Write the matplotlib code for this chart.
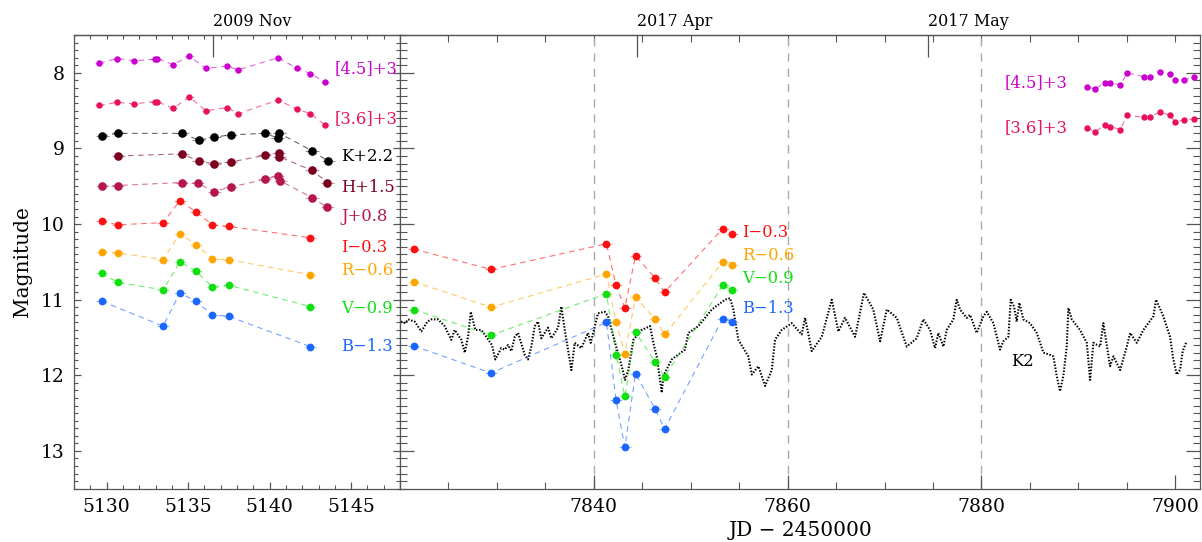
import matplotlib

matplotlib.use("Agg")
import matplotlib.pyplot as plt
from matplotlib.ticker import MultipleLocator

plt.rcParams.update(
    {
        "font.family": ["DejaVu Serif"],
        "font.size": 12,
        "axes.linewidth": 0.9,
        "axes.edgecolor": "#555555",
        "xtick.color": "#555555",
        "ytick.color": "#555555",
        "xtick.labelcolor": "black",
        "ytick.labelcolor": "black",
    }
)

# ---- 2009 November campaign ----
jd_irac_2009 = [5129.55, 5130.65, 5131.7, 5132.94, 5133.1, 5134.08, 5135.08,
                5136.08, 5137.4, 5138.08, 5140.5, 5141.7, 5142.5, 5143.4]
ch2_2009 = [7.87, 7.81, 7.84, 7.82, 7.81, 7.89, 7.78, 7.94, 7.91, 7.96, 7.80, 7.94, 8.01, 8.12]
ch1_2009 = [8.43, 8.39, 8.41, 8.38, 8.38, 8.47, 8.32, 8.50, 8.46, 8.54, 8.36, 8.48, 8.54, 8.69]

jd_k_2009 = [5129.73, 5130.7, 5134.65, 5135.65, 5136.6, 5137.6, 5139.7, 5140.5, 5140.6, 5142.6, 5143.6]
k_2009 = [8.83, 8.80, 8.80, 8.89, 8.85, 8.82, 8.80, 8.86, 8.80, 9.03, 9.17]
jd_h_2009 = [5130.7, 5134.65, 5135.65, 5136.6, 5137.6, 5139.7, 5140.55, 5140.6, 5142.6, 5143.55]
h_2009 = [9.10, 9.07, 9.17, 9.20, 9.18, 9.09, 9.06, 9.11, 9.29, 9.45]
jd_j_2009 = [5129.73, 5130.67, 5134.6, 5135.6, 5136.6, 5137.6, 5139.7, 5140.5, 5140.66, 5142.6, 5143.55]
j_2009 = [9.50, 9.49, 9.45, 9.46, 9.57, 9.51, 9.41, 9.36, 9.43, 9.65, 9.78]

jd_opt_2009 = [5129.69, 5130.67, 5133.47, 5134.49, 5135.47, 5136.49, 5137.49, 5142.49]
i_2009 = [9.96, 10.01, 9.98, 9.69, 9.84, 10.01, 10.03, 10.18]
r_2009 = [10.37, 10.38, 10.47, 10.13, 10.27, 10.46, 10.47, 10.67]
v_2009 = [10.65, 10.77, 10.87, 10.50, 10.62, 10.83, 10.81, 11.09]
jd_b_2009 = [5129.69, 5133.47, 5134.49, 5135.47, 5136.49, 5137.49, 5142.49]
b_2009 = [11.02, 11.35, 10.91, 11.02, 11.20, 11.22, 11.62]

# ---- 2017 campaign ----
jd_opt_2017 = [7821.4, 7829.4, 7841.3, 7842.3, 7843.2, 7844.3, 7846.3, 7847.3, 7853.3, 7854.3]
i_2017 = [10.33, 10.60, 10.26, 10.81, 11.11, 10.42, 10.71, 10.90, 10.06, 10.13]
r_2017 = [10.76, 11.10, 10.66, 11.30, 11.72, 10.97, 11.25, 11.46, 10.50, 10.54]
v_2017 = [11.13, 11.47, 10.92, 11.73, 12.28, 11.43, 11.82, 12.02, 10.81, 10.87]
b_2017 = [11.61, 11.97, 11.30, 12.33, 12.95, 11.98, 12.44, 12.71, 11.25, 11.29]

jd_irac_2017 = [7890.93, 7891.76, 7892.7, 7893.3, 7894.3, 7895.06, 7896.78,
                7897.4, 7898.4, 7899.5, 7899.95, 7900.9, 7901.9]
ch2_2017 = [8.19, 8.21, 8.13, 8.13, 8.16, 8.00, 8.05, 8.05, 7.99, 8.02, 8.10, 8.09, 8.06]
ch1_2017 = [8.73, 8.78, 8.69, 8.71, 8.75, 8.56, 8.59, 8.58, 8.52, 8.56, 8.65, 8.62, 8.61]

k2_jd = [7820.1, 7820.55, 7820.83, 7821.52, 7822.2, 7822.82, 7823.23, 7823.92,
         7824.61, 7825.29, 7825.64, 7826.33, 7826.68, 7827.02, 7827.3, 7827.77,
         7828.39, 7828.74, 7829.49, 7829.83, 7830.45, 7830.8, 7831.15, 7831.49,
         7831.84, 7832.18, 7832.87, 7833.21, 7833.55, 7833.9, 7834.24, 7834.58,
         7835.27, 7835.61, 7836.31, 7836.65, 7837.0, 7837.68, 7838.03, 7838.71,
         7839.4, 7839.68, 7840.43, 7841.13, 7841.47, 7842.19, 7842.88, 7843.22,
         7843.56, 7844.08, 7844.94, 7845.8, 7846.14, 7846.49, 7847.01, 7847.17,
         7848.04, 7849.41, 7849.75, 7850.78, 7852.17, 7853.54, 7854.06, 7854.4,
         7854.91, 7855.94, 7856.3, 7856.98, 7857.67, 7858.36, 7858.7, 7859.39,
         7860.42, 7861.45, 7861.8, 7862.49, 7863.52, 7864.55, 7865.23, 7865.92,
         7866.96, 7867.88, 7868.84, 7869.54, 7870.23, 7871.26, 7872.29, 7873.32,
         7874.0, 7874.7, 7875.21, 7875.55, 7876.07, 7876.42, 7877.1, 7877.45,
         7877.79, 7878.48, 7878.82, 7879.51, 7880.2, 7880.55, 7881.23, 7881.92,
         7882.26, 7882.78, 7883.02, 7883.36, 7883.64, 7883.91, 7884.32, 7885.01,
         7885.71, 7886.39, 7887.08, 7887.42, 7887.77, 7888.11, 7888.45, 7888.8,
         7888.97, 7889.32, 7890.17, 7890.87, 7891.21, 7891.55, 7892.24, 7892.58,
         7893.27, 7893.62, 7894.31, 7895.0, 7895.34, 7896.03, 7896.71, 7897.74,
         7898.02, 7898.77, 7899.46, 7899.8, 7900.15, 7900.49, 7900.77, 7901.11]
k2_mag = [11.29, 11.31, 11.26, 11.29, 11.42, 11.29, 11.26, 11.26,
          11.35, 11.53, 11.40, 11.53, 11.70, 11.49, 11.16, 11.40,
          11.40, 11.46, 11.60, 11.79, 11.64, 11.66, 11.60, 11.68,
          11.49, 11.44, 11.73, 11.79, 11.62, 11.35, 11.29, 11.51,
          11.37, 11.51, 11.37, 11.09, 11.40, 11.93, 11.57, 11.64,
          11.44, 11.57, 11.18, 11.16, 11.22, 11.57, 11.88, 12.06,
          11.93, 11.53, 11.40, 11.35, 11.57, 11.75, 12.23, 12.01,
          11.79, 11.66, 11.44, 11.35, 11.13, 11.00, 10.98, 11.13,
          11.53, 11.75, 11.99, 11.88, 12.14, 11.93, 11.53, 11.40,
          11.31, 11.46, 11.24, 11.68, 11.49, 11.00, 11.42, 11.24,
          11.49, 10.91, 11.13, 11.55, 11.13, 11.24, 11.62, 11.51,
          11.26, 11.40, 11.64, 11.44, 11.62, 11.40, 11.26, 11.00,
          11.13, 11.24, 11.20, 11.44, 11.22, 11.16, 11.31, 11.66,
          11.55, 11.49, 11.00, 11.09, 11.29, 11.04, 11.26, 11.31,
          11.44, 11.70, 11.73, 11.75, 12.01, 12.21, 12.01, 11.62,
          11.11, 11.26, 11.40, 11.57, 12.06, 11.57, 11.62, 11.31,
          11.88, 11.75, 11.93, 11.62, 11.44, 11.57, 11.40, 11.22,
          11.00, 11.22, 11.49, 11.79, 11.99, 11.93, 11.68, 11.57]

C = {
    "ch2": "#CC00CC",
    "ch1": "#E8105F",
    "K": "#000000",
    "H": "#7A0020",
    "J": "#B5164B",
    "I": "#FF1010",
    "R": "#FFA500",
    "V": "#10E010",
    "B": "#1A66FF",
}


def series(ax, x, y, color, ms, xerr, yerr):
    ax.plot(x, y, color=color, lw=0.8, alpha=0.6, ls=(0, (5, 4)), zorder=2)
    ax.errorbar(x, y, xerr=xerr, yerr=yerr, fmt="none", ecolor=color,
                elinewidth=0.8, alpha=0.45, zorder=3)
    ax.plot(x, y, "o", color=color, ms=ms, mec="none", zorder=4)


fig = plt.figure(figsize=(12.02, 5.42), dpi=100)
ax1 = fig.add_axes([0.0616, 0.0983, 0.2712, 0.837])
ax2 = fig.add_axes([0.3328, 0.0983, 0.6656, 0.837])

# left panel
series(ax1, jd_irac_2009, ch2_2009, C["ch2"], 4.6, 0.25, 0.02)
series(ax1, jd_irac_2009, ch1_2009, C["ch1"], 4.6, 0.25, 0.02)
series(ax1, jd_k_2009, k_2009, C["K"], 6.2, 0.4, 0.04)
series(ax1, jd_h_2009, h_2009, C["H"], 6.2, 0.4, 0.04)
series(ax1, jd_j_2009, j_2009, C["J"], 6.2, 0.4, 0.04)
series(ax1, jd_opt_2009, i_2009, C["I"], 5.6, 0.35, 0.03)
series(ax1, jd_opt_2009, r_2009, C["R"], 5.6, 0.35, 0.03)
series(ax1, jd_opt_2009, v_2009, C["V"], 5.6, 0.35, 0.03)
series(ax1, jd_b_2009, b_2009, C["B"], 5.6, 0.35, 0.03)

fs_lab = 11.8
for txt, key, x, y in [
    ("[4.5]+3", "ch2", 5144.0, 7.94),
    ("[3.6]+3", "ch1", 5144.0, 8.61),
    ("K+2.2", "K", 5144.4, 9.11),
    ("H+1.5", "H", 5144.4, 9.52),
    ("J+0.8", "J", 5144.4, 9.90),
    ("I\u22120.3", "I", 5144.4, 10.31),
    ("R\u22120.6", "R", 5144.4, 10.62),
    ("V\u22120.9", "V", 5144.4, 11.12),
    ("B\u22121.3", "B", 5144.4, 11.62),
]:
    ax1.text(x, y, txt, color=C[key], fontsize=fs_lab, ha="left", va="center")

# right panel
for xv in [7840, 7860, 7880]:
    ax2.axvline(xv, color="#aaaaaa", lw=1.0, ls=(0, (6, 5)), zorder=1)

ax2.plot(k2_jd, k2_mag, color="black", lw=1.5, ls=(0, (0.7, 0.8)), zorder=2)

series(ax2, jd_opt_2017, i_2017, C["I"], 5.6, 0.6, 0.03)
series(ax2, jd_opt_2017, r_2017, C["R"], 5.6, 0.6, 0.03)
series(ax2, jd_opt_2017, v_2017, C["V"], 5.6, 0.6, 0.03)
series(ax2, jd_opt_2017, b_2017, C["B"], 5.6, 0.6, 0.03)
series(ax2, jd_irac_2017, ch2_2017, C["ch2"], 4.6, 0.2, 0.02)
series(ax2, jd_irac_2017, ch1_2017, C["ch1"], 4.6, 0.2, 0.02)

for txt, key, x, y in [
    ("I\u22120.3", "I", 7855.3, 10.11),
    ("R\u22120.6", "R", 7855.3, 10.42),
    ("V\u22120.9", "V", 7855.3, 10.72),
    ("B\u22121.3", "B", 7855.3, 11.12),
]:
    ax2.text(x, y, txt, color=C[key], fontsize=fs_lab, ha="left", va="center")
ax2.text(7888.9, 8.13, "[4.5]+3", color=C["ch2"], fontsize=fs_lab, ha="right", va="center")
ax2.text(7888.9, 8.72, "[3.6]+3", color=C["ch1"], fontsize=fs_lab, ha="right", va="center")
ax2.text(7884.2, 11.82, "K2", color="black", fontsize=fs_lab, ha="center", va="center")

# axes setup
ax1.set_xlim(5128, 5148)
ax2.set_xlim(7820, 7902.56)
for ax in (ax1, ax2):
    ax.set_ylim(13.5, 7.5)
    ax.yaxis.set_major_locator(MultipleLocator(1))
    ax.yaxis.set_minor_locator(MultipleLocator(0.1))

ax1.set_xticks([5130, 5135, 5140, 5145])
ax1.xaxis.set_minor_locator(MultipleLocator(1))
ax2.set_xticks([7840, 7860, 7880, 7900])
ax2.xaxis.set_minor_locator(MultipleLocator(5))

ax1.tick_params(which="both", direction="in", left=True, right=True, top=False,
                labelsize=13.5, pad=7)
ax1.tick_params(which="major", length=5, width=0.9)
ax1.tick_params(which="minor", length=2.6, width=0.8)
ax2.tick_params(which="both", direction="in", left=True, right=True, top=False,
                labelleft=False, labelsize=13.5, pad=7)
ax2.tick_params(which="major", length=10, width=0.9)
ax2.tick_params(which="minor", length=5, width=0.8)

sec1 = ax1.secondary_xaxis("top")
sec1.set_xticks([5136.5], labels=["2009 Nov"])
sec1.xaxis.set_minor_locator(MultipleLocator(1))
sec1.tick_params(which="major", direction="in", length=16, width=0.9, labelsize=11.5, pad=4)
sec1.tick_params(which="minor", direction="in", length=3, width=0.8)

sec2 = ax2.secondary_xaxis("top")
sec2.set_xticks([7844.5, 7874.5], labels=["2017 Apr", "2017 May"])
sec2.xaxis.set_minor_locator(MultipleLocator(5))
sec2.tick_params(which="major", direction="in", length=16, width=0.9, labelsize=11.5, pad=4)
sec2.tick_params(which="minor", direction="in", length=5, width=0.8)
for sec in (sec1, sec2):
    for lab in sec.get_xticklabels():
        lab.set_ha("left")

ax1.set_ylabel("Magnitude", fontsize=14.5, labelpad=6)
ax2.set_xlabel("JD \u2212 2450000", fontsize=14.5, labelpad=3)

fig.savefig("out.png", dpi=100)
